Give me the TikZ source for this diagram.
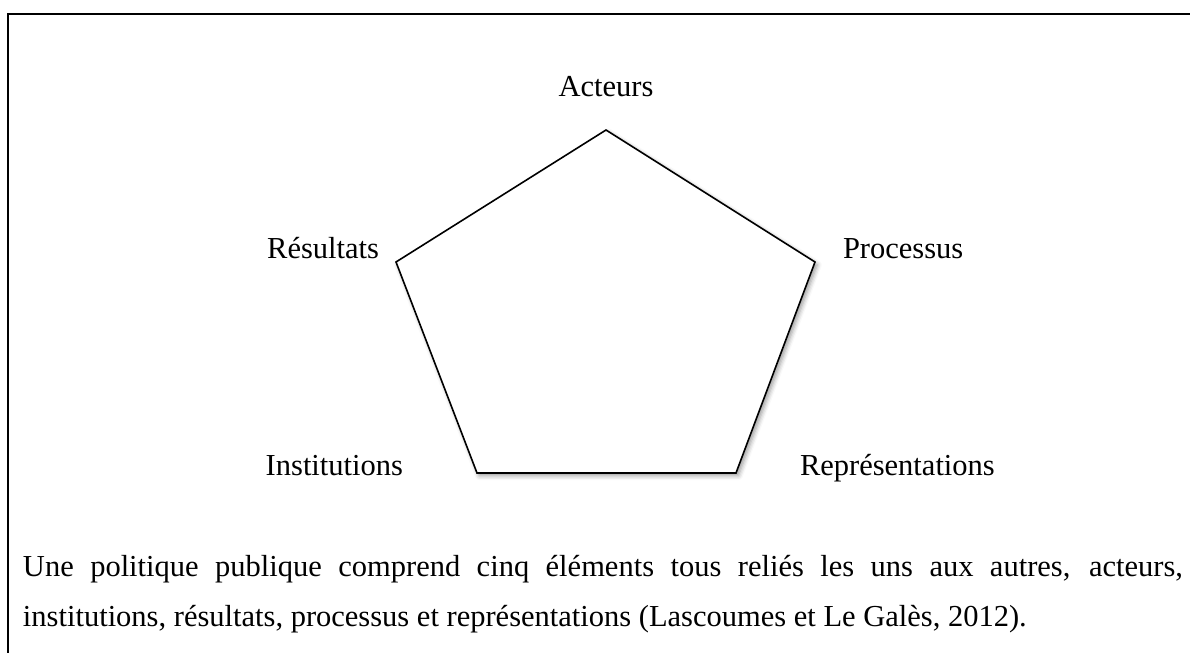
\documentclass[tikz,border=0pt]{standalone}
\usepackage{fontspec}
\setmainfont{Liberation Serif}
\usepackage{tikz}
\usetikzlibrary{calc,shadows.blur}

\newcommand{\lblfont}{\fontsize{15.25}{25}\selectfont}

\begin{document}
\begin{tikzpicture}[x=0.5pt, y=-0.5pt, inner sep=0pt, outer sep=0pt,
    every node/.style={font=\lblfont},
    frameline/.style={line width=1pt, line join=miter},
    pentaline/.style={draw, line width=0.8pt, fill=white, line join=miter,
        blur shadow={shadow xshift=1.2pt, shadow yshift=-1.4pt,
        shadow blur radius=2.2pt, shadow opacity=40}}]
    \useasboundingbox (0,0) rectangle (1190,653);

    % frame (open to the right and bottom)
    \draw[frameline] (8,665) -- (8,14) -- (1200,14);

    % pentagon corners
    \coordinate (act) at (606,130);
    \coordinate (pro) at (815,262);
    \coordinate (rep) at (736,473);
    \coordinate (ins) at (477,473);
    \coordinate (res) at (396,262);
    \draw[pentaline] (act) -- (pro) -- (rep) -- (ins) -- (res) -- cycle;

    % labels
    \node[anchor=base] (act_lbl) at (606,97) {Acteurs};
    \node[anchor=base east] (res_lbl) at (379,258) {Résultats};
    \node[anchor=base west] (pro_lbl) at (843,258) {Processus};
    \node[anchor=base east] (ins_lbl) at (403,475) {Institutions};
    \node[anchor=base west] (rep_lbl) at (800,475) {Représentations};

    % caption
    \node[anchor=base west] (cap_a) at (23,576)
    {\makebox[580pt][s]{Une politique publique comprend cinq éléments tous reliés les uns aux autres, acteurs,}};
    \node[anchor=base west] (cap_b) at ($(cap_a.base west) + (0,50)$)
    {institutions, résultats, processus et représentations (Lascoumes et Le Galès, 2012).};

\end{tikzpicture}
\end{document}
